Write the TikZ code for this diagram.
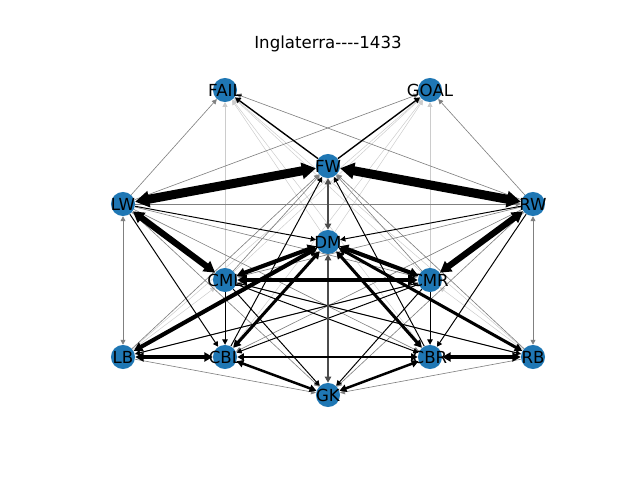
\documentclass[tikz,border=0pt,12pt]{standalone}
\usepackage{fontspec}
\setmainfont{DejaVu Sans}[Ligatures=TeXOff]
\usetikzlibrary{arrows.meta,backgrounds}
\definecolor{plblue}{HTML}{1F77B4}

\begin{document}
\begin{tikzpicture}[x=0.01in,y=-0.01in,
    player/.style={circle,fill=plblue,minimum size=0.2406in,inner sep=0pt},
    >={Triangle[length=3pt 1.1,width=3pt 1.3]},
    pass/.style={->,line width=0.7pt},
    faint/.style={->,line width=0.45pt,black!50},
    ghost/.style={->,line width=0.35pt,black!20}]
      \useasboundingbox (0,0) rectangle (640,480);
      \node (title) at (328,44) {Inglaterra----1433};

      \node (FAIL) [player,label=center:FAIL] at (225,90)  {};
      \node (GOAL) [player,label=center:GOAL] at (430,90)  {};
      \node (FW)   [player,label=center:FW]   at (328,166) {};
      \node (LW)   [player,label=center:LW]   at (123,204) {};
      \node (RW)   [player,label=center:RW]   at (533,204) {};
      \node (DM)   [player,label=center:DM]   at (328,242) {};
      \node (CML)  [player,label=center:CML]  at (225,280) {};
      \node (CMR)  [player,label=center:CMR]  at (430,280) {};
      \node (LB)   [player,label=center:LB]   at (123,357) {};
      \node (CBL)  [player,label=center:CBL]  at (225,357) {};
      \node (CBR)  [player,label=center:CBR]  at (430,357) {};
      \node (RB)   [player,label=center:RB]   at (533,357) {};
      \node (GK)   [player,label=center:GK]   at (328,395) {};

      \begin{pgfonlayer}{background}
      \path [ghost] (CML) edge (FAIL) (DM) edge (FAIL) (CMR) edge (FAIL)
                    (CBL) edge (FAIL) (CBR) edge (FAIL) (RB) edge (FAIL)
                    (CMR) edge (GOAL) (DM) edge (GOAL) (CML) edge (GOAL)
                    (CBR) edge (GOAL) (CBL) edge (GOAL) (LB) edge (GOAL)
                    (LB) edge (CML) (RB) edge (CMR);
      \path [faint] (LW) edge (RW) (LW) edge (FAIL) (RW) edge (GOAL)
                    (LW) edge (GOAL) (RW) edge (FAIL)
                    (LW) edge [<->] (LB) (RW) edge [<->] (RB)
                    (LB) edge (GK) (RB) edge (GK)
                    (LB) edge (FW) (RB) edge (FW) (CML) edge (FW) (CMR) edge (FW)
                    (LW) edge (CMR) (RW) edge (CML) (LW) edge (CBR) (RW) edge (CBL)
                    (LW) edge (GK) (RW) edge (GK) (LB) edge (CMR) (RB) edge (CML)
                    (LB) edge (DM) (RB) edge (DM);
      \path [pass]  (CML) edge (CBL) (CMR) edge (CBR) (LW) edge (CBL) (RW) edge (CBR)
                    (LW) edge (DM) (RW) edge (DM) (CBL) edge (FW) (CBR) edge (FW)
                    (CML) edge (GK) (CMR) edge (GK) (CML) edge (CBR) (CMR) edge (CBL)
                    (CML) edge (RB) (CMR) edge (LB);

      \draw [->,line width=1pt] (FW) -- (GOAL);
      \draw [->,line width=1pt] (FW) -- (FAIL);
      \draw [<->,line width=1.3pt,black!70] (FW) -- (DM);
      \draw [<->,line width=1.3pt,black!70] (DM) -- (GK);
      \draw [<->,line width=1.6pt] (CBR) -- (CBL);
      \draw [<->,line width=1.8pt] (CBL) -- (GK);
      \draw [<->,line width=1.8pt] (CBR) -- (GK);
      \draw [<->,line width=2.2pt] (DM) -- (CBL);
      \draw [<->,line width=2.2pt] (DM) -- (CBR);
      \draw [<->,line width=2.2pt] (DM) -- (RB);
      \draw [<->,line width=2.8pt] (LB) -- (CBL);
      \draw [<->,line width=2.8pt] (CBR) -- (RB);
      \draw [<->,line width=3pt] (DM) -- (CML);
      \draw [<->,line width=3pt] (DM) -- (CMR);
      \draw [<->,line width=3pt] (DM) -- (LB);
      \draw [<->,line width=3.5pt] (CML) -- (CMR);
      \draw [<->,line width=4.5pt] (LW) -- (CML);
      \draw [<->,line width=4.5pt] (RW) -- (CMR);
      \draw [<->,line width=6.5pt] (LW) -- (FW);
      \draw [<->,line width=6.5pt] (FW) -- (RW);
      \end{pgfonlayer}
\end{tikzpicture}
\end{document}
